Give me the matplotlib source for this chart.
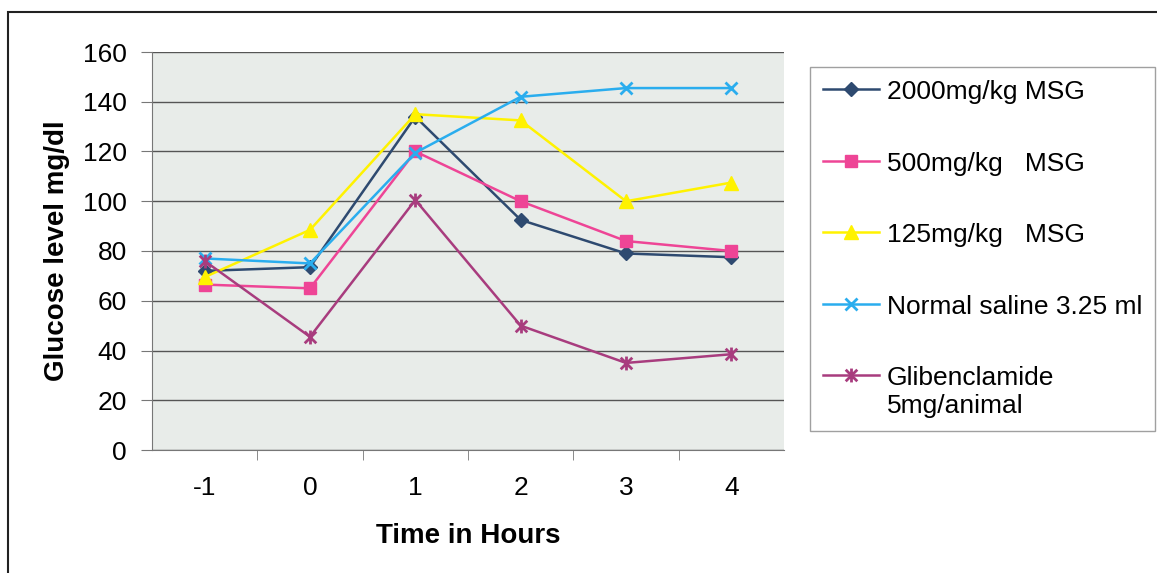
import matplotlib.pyplot as plt
import numpy as np
from matplotlib.path import Path
from matplotlib.patches import Rectangle

plt.rcParams['font.family'] = ['Liberation Sans', 'DejaVu Sans']

# Data
hours = ['-1', '0', '1', '2', '3', '4']
msg_2000 = [72, 73.5, 134, 92.5, 79, 77.5]
msg_500 = [66.5, 65, 120, 100, 84, 80]
msg_125 = [69.5, 88.5, 135, 132.5, 100, 107.5]
saline = [77, 75, 119.5, 142, 145.5, 145.5]
gliben = [76, 45.5, 100.5, 50, 35, 38.5]

labels = ['2000mg/kg MSG', '500mg/kg   MSG', '125mg/kg   MSG',
          'Normal saline 3.25 ml', 'Glibenclamide\n5mg/animal']
colors = ['#2E4A70', '#EE4596', '#FFF200', '#2AADEE', '#A83C7E']

# x with a vertical bar, like the excel star marker
star = Path([(-1, -1), (1, 1), (-1, 1), (1, -1), (0, -1.2), (0, 1.2)],
            [Path.MOVETO, Path.LINETO, Path.MOVETO, Path.LINETO, Path.MOVETO, Path.LINETO])
markers = ['D', 's', '^', 'x', star]
msizes = [7, 8.5, 9.5, 9, 10]

fig = plt.figure(figsize=(11.57, 5.73), dpi=100)
fig.patches.append(Rectangle((8 / 1157, -0.1), 1.2, 1 - 12 / 573 + 0.1,
                             transform=fig.transFigure, fill=False,
                             edgecolor='#222222', linewidth=1.5))

ax = fig.add_axes([152 / 1157, 123 / 573, 632 / 1157, 398 / 573])
ax.set_facecolor('#E8ECE9')

x = np.arange(len(hours))
series = [msg_2000, msg_500, msg_125, saline, gliben]
for vals, lab, c, m, ms in zip(series, labels, colors, markers, msizes):
    ax.plot(x, vals, color=c, linewidth=1.8, marker=m, markersize=ms,
            markeredgewidth=2 if (m == 'x' or m is star) else 1,
            label=lab)

ax.set_xlim(-0.5, len(hours) - 0.5)
ax.set_ylim(0, 160)
ax.set_yticks(np.arange(0, 161, 20))
ax.set_xticks(x)
ax.set_xticklabels(hours)
ax.set_xticks(np.arange(0.5, len(hours) - 1, 1), minor=True)
ax.tick_params(axis='x', which='major', length=0, pad=19, labelsize=19)
ax.tick_params(axis='x', which='minor', length=7, color='#777777', direction='out')
ax.tick_params(axis='y', length=8, color='#777777', pad=10, labelsize=19)
ax.grid(axis='y', color='#555555', linewidth=1)
ax.set_axisbelow(True)
for s in ['top', 'right']:
    ax.spines[s].set_visible(False)
ax.spines['left'].set_color('#777777')
ax.spines['bottom'].set_color('#777777')

ax.set_xlabel('Time in Hours', fontsize=20, fontweight='bold', labelpad=16)
ax.set_ylabel('Glucose level mg/dl', fontsize=20, fontweight='bold', labelpad=9)

leg = ax.legend(loc='upper left', bbox_to_anchor=(810 / 1157, 1 - 67 / 573),
                bbox_transform=fig.transFigure, borderaxespad=0,
                fontsize=19, frameon=True, fancybox=False, edgecolor='#888888',
                handlelength=2.1, handletextpad=0.3, labelspacing=1.8,
                borderpad=0.5)
leg.get_frame().set_linewidth(1)
# put the marker of the two-line entry next to its first line
for col in leg._legend_handle_box.get_children():
    for item in col.get_children():
        item.align = 'top'

fig.savefig('out.png', dpi=100)
